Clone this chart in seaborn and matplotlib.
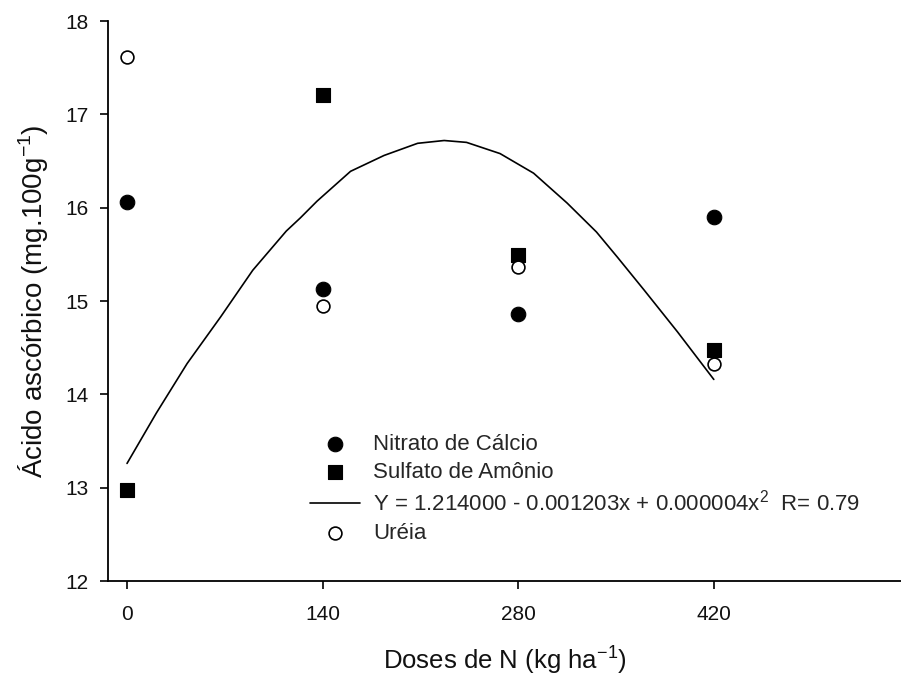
import numpy as np
import pandas as pd
import matplotlib
matplotlib.use('Agg')
import matplotlib.pyplot as plt
import seaborn as sns

doses = [0, 140, 280, 420]
nitrato = [16.06, 15.13, 14.86, 15.90]
sulfato = [12.97, 17.21, 15.49, 14.47]
ureia = [17.62, 14.95, 15.37, 14.32]

# fitted curve
curve_x = [0, 21, 43, 67, 90, 114, 124, 136, 160, 184, 208, 227, 243, 267, 291, 315, 336, 351, 370, 394, 420]
curve_y = [13.26, 13.80, 14.33, 14.83, 15.33, 15.75, 15.89, 16.07, 16.39, 16.56, 16.69, 16.72, 16.70, 16.58,
           16.37, 16.05, 15.74, 15.47, 15.12, 14.67, 14.16]

eq_label = 'Y = 1.214000 - 0.001203x + 0.000004x$^2$  R= 0.79'

sns.set_theme(style='ticks')
plt.rcParams['font.family'] = ['Liberation Sans', 'DejaVu Sans']
plt.rcParams['mathtext.fontset'] = 'custom'
plt.rcParams['mathtext.rm'] = 'Liberation Sans'
plt.rcParams['mathtext.it'] = 'Liberation Sans:italic'
plt.rcParams['mathtext.default'] = 'regular'

fig = plt.figure(figsize=(9.01, 6.79), dpi=100)
ax = fig.add_axes([0.1199, 0.1443, 0.8801, 0.8247])

pts = pd.DataFrame({'dose': doses, 'nitrato': nitrato, 'sulfato': sulfato, 'ureia': ureia})
line_df = pd.DataFrame({'x': curve_x, 'y': curve_y})

sns.scatterplot(data=pts, x='dose', y='nitrato', ax=ax, marker='o', s=110, color='black',
                edgecolor='black', linewidth=0.8, label='Nitrato de Cálcio', zorder=3)
sns.scatterplot(data=pts, x='dose', y='sulfato', ax=ax, marker='s', s=95, color='black',
                edgecolor='black', linewidth=0.8, label='Sulfato de Amônio', zorder=3)
sns.lineplot(data=line_df, x='x', y='y', ax=ax, color='black', linewidth=1.2, label=eq_label,
             sort=False, zorder=2)
sns.scatterplot(data=pts, x='dose', y='ureia', ax=ax, marker='o', s=85, facecolor='white',
                edgecolor='black', linewidth=1.2, label='Uréia', zorder=4)

ax.set_xlim(-13.6, 554)
ax.set_ylim(12, 18)
ax.set_xticks(doses)
ax.set_yticks([12, 13, 14, 15, 16, 17, 18])
ax.tick_params(axis='both', labelsize=15, length=6, width=1.2, color='black', labelcolor='#111111')
ax.tick_params(axis='x', pad=11)
ax.tick_params(axis='y', pad=8)
for side in ['left', 'bottom']:
    ax.spines[side].set_linewidth(1.3)
    ax.spines[side].set_color('black')
sns.despine(ax=ax)

ax.set_xlabel('Doses de N (kg ha$^{-1}$)', fontsize=18.5, labelpad=15, color='#111111')
ax.set_ylabel('Ácido ascórbico (mg.100g$^{-1}$)', fontsize=20, labelpad=11, color='#111111')

handles, labels = ax.get_legend_handles_labels()
ax.legend(handles, labels, loc='upper left', bbox_to_anchor=(310 / 901, 1 - 434 / 679),
          bbox_transform=fig.transFigure, frameon=False, fontsize=16, handlelength=2.25,
          handletextpad=0.6, labelspacing=0.31, borderpad=0, borderaxespad=0)

plt.savefig('out.png', dpi=100)
